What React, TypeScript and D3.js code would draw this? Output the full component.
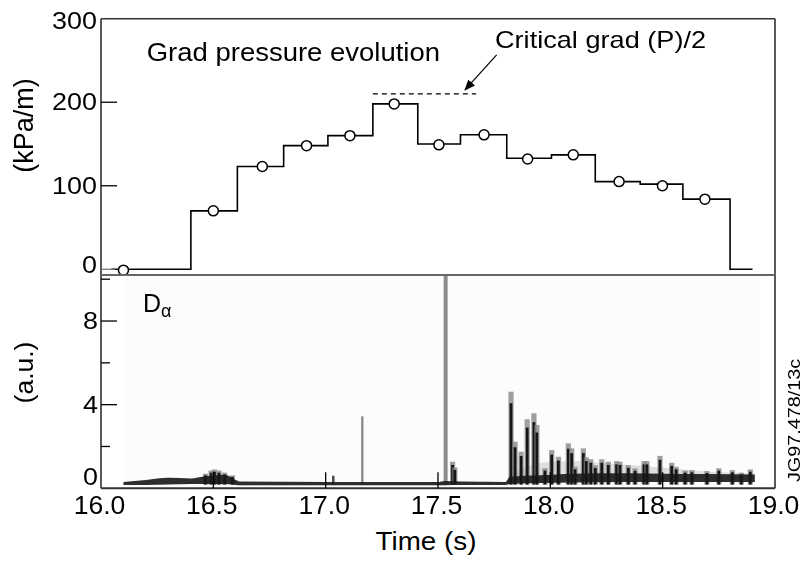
import React from "react";
import * as d3 from "d3";

// ---------- Top panel: grad pressure evolution ----------
const stepTimes = [16.045, 16.40, 16.607, 16.813, 17.01, 17.21, 17.41, 17.60, 17.806, 18.005, 18.20, 18.40, 18.59, 18.80, 18.90];
const stepValues = [0, 70, 123, 148, 160, 198, 150, 161, 133, 137, 105, 102, 84, 0];
const circleTimes = [16.10, 16.50, 16.718, 16.915, 17.108, 17.305, 17.504, 17.705, 17.899, 18.102, 18.306, 18.499, 18.688];
const circleValues = [-1, 70, 123, 148, 160, 198, 149, 161, 132, 137, 105, 100, 84];
const criticalValue = 210;
const criticalRange = [17.21, 17.67];
const arrowFrom = [17.761, 256.6];
const arrowTo = [17.62, 214.7];
const topTicks = [0, 100, 200, 300];
const topTickLabels = ["0", "100", "200", "300"];

// ---------- Bottom panel: D-alpha ----------
const bandTimes = [16.10, 16.2, 16.3, 16.4, 16.45, 16.55, 16.6, 16.62, 17.0, 17.5, 17.53, 17.6, 17.8, 17.82, 17.95, 18.1, 18.3, 18.5, 18.7, 18.91];
const bandLow = [0.16, 0.16, 0.18, 0.2, 0.2, 0.2, 0.16, 0.15, 0.15, 0.15, 0.15, 0.16, 0.16, 0.2, 0.25, 0.28, 0.3, 0.3, 0.3, 0.3];
const bandHigh = [0.3, 0.4, 0.5, 0.47, 0.55, 0.65, 0.4, 0.32, 0.3, 0.3, 0.35, 0.32, 0.3, 0.55, 0.62, 0.7, 0.72, 0.7, 0.68, 0.66];
const hazeTimes = [17.82, 17.95, 18.1, 18.3, 18.5, 18.7, 18.91];
const hazeValues = [0.6, 1.2, 1.3, 1.15, 1.0, 0.8, 0.7];
const burstTimes = [16.465, 16.49, 16.505, 16.525, 16.55, 16.585, 17.565, 17.575, 17.825, 17.843, 17.87, 17.897, 17.927, 17.94, 17.976, 18.006, 18.036, 18.08, 18.095, 18.11, 18.147, 18.16, 18.18, 18.2, 18.229, 18.258, 18.295, 18.31, 18.347, 18.377, 18.417, 18.43, 18.488, 18.54, 18.56, 18.6, 18.63, 18.697, 18.75, 18.81, 18.85, 18.89];
const burstValues = [0.7, 0.85, 0.9, 0.85, 0.75, 0.62, 1.27, 1.0, 4.62, 2.23, 1.75, 3.3, 3.59, 3.03, 0.96, 1.83, 1.51, 2.15, 1.91, 1.03, 1.91, 1.48, 1.39, 1.1, 1.39, 1.27, 1.3, 1.27, 1.11, 0.95, 1.3, 1.3, 1.55, 1.22, 1.03, 0.85, 0.87, 0.83, 0.96, 0.87, 0.75, 0.9];
const isolatedTimes = [17.034, 17.163, 17.534];
const isolatedValues = [0.6, 3.44, 10.5];
const botMajorTicks = [0, 4, 8];
const botMinorTicks = [2, 6, 10];
const botTickLabels = ["0", "4", "8"];

// ---------- X axis ----------
const xTicks = [16.0, 16.5, 17.0, 17.5, 18.0, 18.5, 19.0];
const xTickLabels = ["16.0", "16.5", "17.0", "17.5", "18.0", "18.5", "19.0"];

const FONT = "'Liberation Sans', Arial, Helvetica, sans-serif";

export default function App() {
  const x = d3.scaleLinear().domain([16, 19]).range([101, 775]);
  const yT = d3.scaleLinear().domain([0, 300]).range([269.3, 18.7]);
  const yB = d3.scaleLinear().domain([0, 10]).range([488.3, 279.2]);

  const left = x(16), right = x(19);
  const topY = yT(300), divY = 275, botY = yB(0);

  const stepPts: [number, number][] = stepValues.map((v, i) => [stepTimes[i], v] as [number, number]);
  stepPts.push([stepTimes[stepTimes.length - 1], stepValues[stepValues.length - 1]]);
  const stepPath = d3.line<[number, number]>().x(d => x(d[0])).y(d => yT(d[1])).curve(d3.curveStepAfter)(stepPts) || "";

  const idx = d3.range(bandTimes.length);
  const bandPath = d3.area<number>().x(i => x(bandTimes[i])).y0(i => yB(bandLow[i])).y1(i => yB(bandHigh[i])).curve(d3.curveMonotoneX)(idx) || "";
  const hIdx = d3.range(hazeTimes.length);
  const hazePath = d3.area<number>().x(i => x(hazeTimes[i])).y0(yB(0.3)).y1(i => yB(hazeValues[i])).curve(d3.curveMonotoneX)(hIdx) || "";

  const base = yB(0.18);

  return (
    <svg width={803} height={562} style={{ position: "absolute", left: 0, top: 0, display: "block", background: "#fff" }} fontFamily={FONT}>
      <defs>
        <clipPath id="botClip">
          <rect x={left} y={divY} width={right - left} height={botY - divY} />
        </clipPath>
        <filter id="soft" x="-5%" y="-5%" width="110%" height="110%">
          <feGaussianBlur stdDeviation="0.7" />
        </filter>
        <marker id="arrow" markerUnits="userSpaceOnUse" markerWidth={11} markerHeight={9} refX={10} refY={4.5} orient="auto">
          <path d="M0,0 L11,4.5 L0,9 z" fill="#000" />
        </marker>
      </defs>

      {/* bottom panel image area */}
      <rect x={x(16.1)} y={277} width={x(18.93) - x(16.1)} height={botY - 279} fill="#fcfcfc" />

      <g clipPath="url(#botClip)">
        <g filter="url(#soft)">
          <path d={hazePath} fill="#9a9a9a" opacity={0.3} />
          {isolatedTimes.map((t, i) => (
            <rect key={"iso" + i} x={x(t) - (i === 2 ? 2 : 1.2)} width={i === 2 ? 4 : 2.4} y={yB(isolatedValues[i])} height={base - yB(isolatedValues[i])} fill={i === 0 ? "#444" : "#8c8c8c"} />
          ))}
          {burstTimes.map((t, i) => (
            <g key={"b" + i}>
              <rect x={x(t) - 2.6} width={5.2} y={yB(burstValues[i])} height={base - yB(burstValues[i])} fill="#808080" opacity={0.75} />
              <rect x={x(t) - 1.4} width={2.8} y={yB(burstValues[i] * 0.88)} height={base - yB(burstValues[i] * 0.88)} fill="#151515" />
            </g>
          ))}
          <path d={bandPath} fill="#1a1a1a" opacity={0.9} />
        </g>
      </g>

      {/* top panel step line */}
      <path d={stepPath} fill="none" stroke="#000" strokeWidth={1.6} />
      {circleTimes.map((t, i) => (
        <circle key={"c" + i} cx={x(t)} cy={yT(circleValues[i])} r={5} fill="#fff" stroke="#000" strokeWidth={1.5} />
      ))}

      {/* critical dashed line + arrow */}
      <line x1={x(criticalRange[0])} x2={x(criticalRange[1])} y1={yT(criticalValue)} y2={yT(criticalValue)} stroke="#000" strokeWidth={1.3} strokeDasharray="5,4" />
      <line x1={x(arrowFrom[0])} y1={yT(arrowFrom[1])} x2={x(arrowTo[0])} y2={yT(arrowTo[1])} stroke="#000" strokeWidth={1.2} markerEnd="url(#arrow)" />

      {/* frame */}
      <line x1={left} x2={right} y1={topY} y2={topY} stroke="#333" strokeWidth={1.5} />
      <line x1={left} x2={left} y1={topY} y2={botY} stroke="#222" strokeWidth={1.5} />
      <line x1={right} x2={right} y1={topY} y2={botY} stroke="#222" strokeWidth={1.5} />
      <line x1={left} x2={right} y1={divY} y2={divY} stroke="#666" strokeWidth={2} />
      <line x1={left} x2={right} y1={botY} y2={botY} stroke="#333" strokeWidth={2} />

      {/* top y ticks */}
      {topTicks.filter(v => v > 0 && v < 300).map(v => (
        <line key={"tt" + v} x1={left} x2={left + 16} y1={yT(v)} y2={yT(v)} stroke="#000" strokeWidth={1.3} />
      ))}
      <line x1={left} x2={left + 14} y1={yT(0)} y2={yT(0)} stroke="#777" strokeWidth={1.3} />
      {topTicks.map((v, i) => (
        <text key={"ttl" + v} transform={`translate(97,${yT(v) + 8 - (v === 0 ? 4 : 0) + (v === 300 ? 2 : 0)}) scale(1.17,1)`} textAnchor="end" fontSize={23} fill="#000">{topTickLabels[i]}</text>
      ))}

      {/* bottom y ticks */}
      {botMajorTicks.filter(v => v > 0).map(v => (
        <line key={"bt" + v} x1={left} x2={left + 16} y1={yB(v)} y2={yB(v)} stroke="#000" strokeWidth={1.3} />
      ))}
      {botMinorTicks.map(v => (
        <line key={"bm" + v} x1={left} x2={left + 9} y1={yB(v)} y2={yB(v)} stroke="#000" strokeWidth={1.3} />
      ))}
      {botMajorTicks.map((v, i) => (
        <text key={"btl" + v} transform={`translate(98,${yB(v) + 8 - (v === 0 ? 11 : 0)}) scale(1.17,1)`} textAnchor="end" fontSize={23} fill="#000">{botTickLabels[i]}</text>
      ))}

      {/* x ticks */}
      {xTicks.filter(t => t > 16 && t < 19).map(t => (
        <line key={"xt" + t} x1={x(t)} x2={x(t)} y1={botY} y2={botY - 16} stroke="#000" strokeWidth={1.3} />
      ))}
      {xTicks.map((t, i) => (
        <text key={"xtl" + t} x={x(t) - 1.5} y={514} textAnchor="middle" fontSize={26.5} fill="#000">{xTickLabels[i]}</text>
      ))}

      {/* titles */}
      <text transform="translate(426,549.5) scale(1.07,1)" textAnchor="middle" fontSize={26} fill="#000">Time (s)</text>
      <text transform="translate(32.7,125.5) rotate(-90)" textAnchor="middle" fontSize={27} fill="#000">(kPa/m)</text>
      <text transform="translate(33,372.5) rotate(-90)" textAnchor="middle" fontSize={26.5} fill="#000">(a.u.)</text>
      <text transform="translate(146.7,61) scale(1.1,1)" fontSize={25} fill="#000">Grad pressure evolution</text>
      <text transform="translate(495,48.3) scale(1.17,1)" fontSize={23.2} fill="#000">Critical grad (P)/2</text>
      <text x={143} y={311.7} fontSize={25} fill="#000">D</text>
      <text x={161} y={317.3} fontSize={18} fill="#000">α</text>
      <text transform="translate(800,420.5) rotate(-90) scale(1.2,1)" textAnchor="middle" fontSize={16.5} fill="#000">JG97.478/13c</text>
    </svg>
  );
}
